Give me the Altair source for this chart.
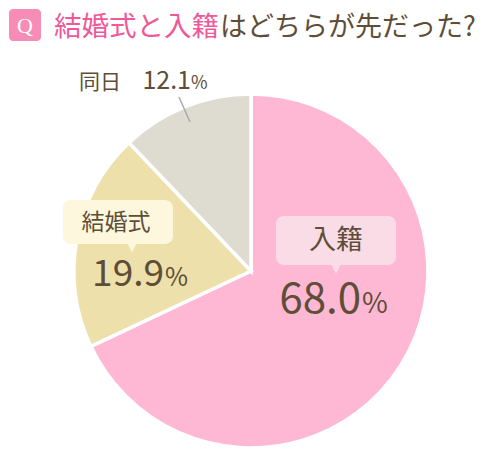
import altair as alt
import pandas as pd

categories = ["入籍", "結婚式", "同日"]
values = [68.0, 19.9, 12.1]
colors = ["#FFB8D3", "#EDE0AA", "#DEDBD0"]

title_pink = "結婚式と入籍"
title_rest = "はどちらが先だった?"

df = pd.DataFrame({"cat": categories, "val": values, "order": [0, 1, 2]})

FONT = "Noto Sans CJK JP"
BROWN = "#5E4D37"

pie = alt.Chart(df).mark_arc(stroke="white", strokeWidth=3.5, outerRadius=177).encode(
    theta=alt.Theta("val:Q", stack=True),
    order=alt.Order("order:Q"),
    color=alt.Color("cat:N", scale=alt.Scale(domain=categories, range=colors), legend=None),
    x=alt.value(243),
    y=alt.value(263),
)

base = alt.Chart(pd.DataFrame({"a": [0]}))

# title
q_box = base.mark_rect(color="#F78DB6", cornerRadius=4).encode(
    x=alt.value(1), x2=alt.value(33), y=alt.value(1), y2=alt.value(33))
q_txt = base.mark_text(text="Q", color="white", font="Liberation Serif", fontSize=22,
                       align="center", baseline="middle").encode(x=alt.value(17), y=alt.value(18))
t1 = base.mark_text(text=title_pink, color="#F0589A", font=FONT, fontSize=27.5,
                    align="left", baseline="alphabetic").encode(x=alt.value(46), y=alt.value(27.8))
t2 = base.mark_text(text=title_rest, color=BROWN, font=FONT, fontSize=27,
                    align="left", baseline="alphabetic").encode(x=alt.value(212), y=alt.value(27.8))

# 入籍 callout
b1 = base.mark_rect(color="#FADCE7", cornerRadius=8).encode(
    x=alt.value(268), x2=alt.value(388), y=alt.value(208), y2=alt.value(257))
p1 = base.mark_point(shape="M-1,-1L1,-1L0,1Z", filled=True, color="#FADCE7", opacity=1, size=90).encode(
    x=alt.value(328), y=alt.value(261))
l1 = base.mark_text(text=categories[0], color=BROWN, font=FONT, fontSize=27,
                    align="center", baseline="middle").encode(x=alt.value(328), y=alt.value(233))
v1 = base.mark_text(text=f"{values[0]:.1f}", color=BROWN, font=FONT, fontSize=42,
                    align="right", baseline="alphabetic").encode(x=alt.value(353), y=alt.value(305))
pc1 = base.mark_text(text="%", color=BROWN, font=FONT, fontSize=28,
                     align="left", baseline="alphabetic").encode(x=alt.value(354), y=alt.value(305))

# 結婚式 callout
b2 = base.mark_rect(color="#FDF7DD", cornerRadius=8).encode(
    x=alt.value(55), x2=alt.value(165), y=alt.value(192), y2=alt.value(236))
p2 = base.mark_point(shape="M-1,-1L1,-1L0,1Z", filled=True, color="#FDF7DD", opacity=1, size=80).encode(
    x=alt.value(124), y=alt.value(240))
l2 = base.mark_text(text=categories[1], color=BROWN, font=FONT, fontSize=23,
                    align="center", baseline="middle").encode(x=alt.value(108), y=alt.value(215))
v2 = base.mark_text(text=f"{values[1]:.1f}", color=BROWN, font=FONT, fontSize=37,
                    align="right", baseline="alphabetic").encode(x=alt.value(156), y=alt.value(278))
pc2 = base.mark_text(text="%", color=BROWN, font=FONT, fontSize=25,
                     align="left", baseline="alphabetic").encode(x=alt.value(157), y=alt.value(278))

# 同日 label
leader = base.mark_rule(color="#A9A9AE", strokeWidth=1.5).encode(
    x=alt.value(171), x2=alt.value(182), y=alt.value(89), y2=alt.value(114))
l3 = base.mark_text(text=categories[2], color=BROWN, font=FONT, fontSize=21,
                    align="left", baseline="alphabetic").encode(x=alt.value(71), y=alt.value(81))
v3 = base.mark_text(text=f"{values[2]:.1f}", color=BROWN, font=FONT, fontSize=25,
                    align="right", baseline="alphabetic").encode(x=alt.value(183), y=alt.value(81))
pc3 = base.mark_text(text="%", color=BROWN, font=FONT, fontSize=18,
                     align="left", baseline="alphabetic").encode(x=alt.value(183), y=alt.value(81))

chart = alt.layer(pie, q_box, q_txt, t1, t2, b1, p1, l1, v1, pc1, b2, p2, l2, v2, pc2,
                  leader, l3, v3, pc3).properties(
    width=484, height=449, autosize="none", padding=0
).configure_view(stroke=None)

chart.save("out.html", embed_options={"renderer": "svg", "actions": False})
